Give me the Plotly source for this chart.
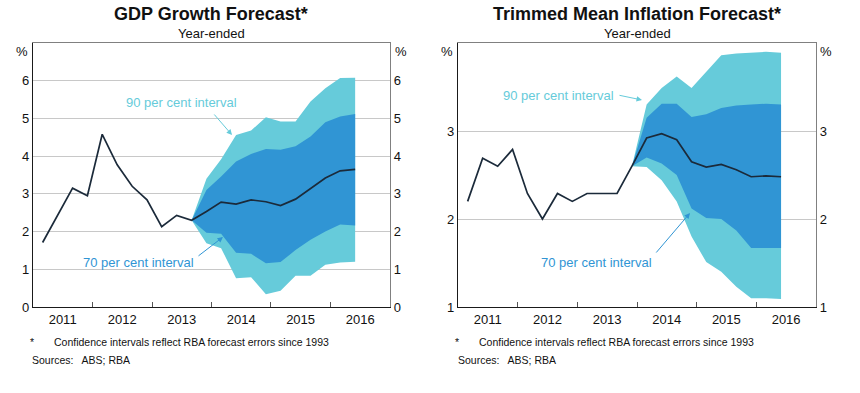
import plotly.graph_objects as go

# ---------------- data ----------------
quarters = ["2011-03-01", "2011-06-01", "2011-09-01", "2011-12-01",
            "2012-03-01", "2012-06-01", "2012-09-01", "2012-12-01",
            "2013-03-01", "2013-06-01", "2013-09-01", "2013-12-01",
            "2014-03-01", "2014-06-01", "2014-09-01", "2014-12-01",
            "2015-03-01", "2015-06-01", "2015-09-01", "2015-12-01",
            "2016-03-01", "2016-06-01"]

gdp_line = [1.71, 2.42, 3.15, 2.95, 4.58, 3.77, 3.20, 2.84, 2.13, 2.43, 2.30,
            2.53, 2.78, 2.73, 2.84, 2.79, 2.69, 2.86, 3.13, 3.42, 3.61, 3.65]
gdp_fc_start = 10
gdp_u90 = [2.30, 3.40, 3.92, 4.56, 4.68, 5.03, 4.92, 4.92, 5.45, 5.80, 6.07, 6.08]
gdp_u70 = [2.30, 3.10, 3.46, 3.86, 4.06, 4.19, 4.17, 4.26, 4.52, 4.90, 5.05, 5.12]
gdp_l70 = [2.30, 1.97, 1.94, 1.44, 1.41, 1.16, 1.19, 1.51, 1.78, 2.00, 2.19, 2.16]
gdp_l90 = [2.30, 1.69, 1.56, 0.76, 0.79, 0.34, 0.43, 0.83, 0.83, 1.12, 1.18, 1.20]

inf_line = [2.20, 2.69, 2.60, 2.79, 2.29, 2.00, 2.29, 2.20, 2.29, 2.29, 2.29,
            2.60, 2.92, 2.97, 2.90, 2.65, 2.59, 2.62, 2.56, 2.48, 2.49, 2.48]
inf_fc_start = 11
inf_u90 = [2.60, 3.30, 3.49, 3.62, 3.49, 3.67, 3.86, 3.88, 3.89, 3.90, 3.89]
inf_u70 = [2.60, 3.15, 3.31, 3.31, 3.16, 3.19, 3.26, 3.29, 3.30, 3.31, 3.30]
inf_l70 = [2.60, 2.70, 2.63, 2.50, 2.12, 2.01, 2.00, 1.87, 1.67, 1.67, 1.67]
inf_l90 = [2.60, 2.59, 2.44, 2.20, 1.80, 1.51, 1.40, 1.23, 1.10, 1.10, 1.09]

year_labels = ["2011", "2012", "2013", "2014", "2015", "2016"]
year_mid = ["2011-07-02", "2012-07-02", "2013-07-02", "2014-07-02", "2015-07-02", "2016-07-02"]
year_bounds = ["2012-01-01", "2013-01-01", "2014-01-01", "2015-01-01", "2016-01-01"]
gdp_ticks = [0, 1, 2, 3, 4, 5, 6]
inf_ticks = [1, 2, 3]

# ---------------- style ----------------
LIGHT = "#66CBDA"
DARK = "#3095D4"
LINE = "#1B2A3A"
GRID = "#C8C8C8"
FONT = "Arial, Liberation Sans, sans-serif"
W, H = 860, 393

fig = go.Figure()


def add_panel(line, start, u90, u70, l70, l90, xa, ya, xa_top, ya_right):
    xs = quarters[start:]
    fig.add_trace(go.Scatter(x=xs, y=u90, mode="lines", line=dict(width=0),
                             hoverinfo="skip", showlegend=False, xaxis=xa, yaxis=ya))
    fig.add_trace(go.Scatter(x=xs, y=l90, mode="lines", line=dict(width=0),
                             fill="tonexty", fillcolor=LIGHT, hoverinfo="skip",
                             showlegend=False, xaxis=xa, yaxis=ya))
    fig.add_trace(go.Scatter(x=xs, y=u70, mode="lines", line=dict(width=0),
                             hoverinfo="skip", showlegend=False, xaxis=xa, yaxis=ya))
    fig.add_trace(go.Scatter(x=xs, y=l70, mode="lines", line=dict(width=0),
                             fill="tonexty", fillcolor=DARK, hoverinfo="skip",
                             showlegend=False, xaxis=xa, yaxis=ya))
    fig.add_trace(go.Scatter(x=quarters, y=line, mode="lines",
                             line=dict(color=LINE, width=1.7),
                             showlegend=False, xaxis=xa, yaxis=ya))
    # invisible copy so the frame axes (top / right) are drawn
    fig.add_trace(go.Scatter(x=quarters, y=line, mode="lines",
                             line=dict(width=0), opacity=0, hoverinfo="skip",
                             showlegend=False, xaxis=xa_top, yaxis=ya_right))


add_panel(gdp_line, gdp_fc_start, gdp_u90, gdp_u70, gdp_l70, gdp_l90, "x", "y", "x3", "y3")
add_panel(inf_line, inf_fc_start, inf_u90, inf_u70, inf_l70, inf_l90, "x2", "y2", "x4", "y4")

ydom = [(H - 307) / H, (H - 43) / H]
dom_left = [33 / W, 390 / W]
dom_right = [458 / W, 816 / W]
xrange_ = ["2011-01-01", "2017-01-01"]
tickfont = dict(family=FONT, size=13, color="#111111")


def xaxis_main(domain, anchor):
    return dict(domain=domain, anchor=anchor, type="date", range=xrange_,
                tickmode="array", tickvals=year_mid, ticktext=year_labels,
                ticks="", showgrid=False, zeroline=False, automargin=False,
                showline=True, linecolor="#1a1a1a", linewidth=1.2,
                tickfont=tickfont,
                minor=dict(tickmode="array", tickvals=year_bounds, ticks="inside",
                           ticklen=5, tickcolor="#555555", tickwidth=1, showgrid=False))


def xaxis_top(domain, anchor, over):
    return dict(domain=domain, anchor=anchor, overlaying=over, side="top",
                type="date", range=xrange_, showticklabels=False, ticks="",
                showgrid=False, zeroline=False, showline=True, automargin=False,
                linecolor="#808080", linewidth=1.2)


def yaxis_main(rng, ticks, anchor):
    return dict(domain=ydom, anchor=anchor, range=rng, tickmode="array",
                tickvals=ticks, ticks="", showgrid=True, gridcolor=GRID,
                gridwidth=1, zeroline=False, showline=True, automargin=False,
                linecolor="#1a1a1a", linewidth=1.2, tickfont=tickfont)


def yaxis_right(rng, ticks, anchor, over):
    return dict(domain=ydom, anchor=anchor, overlaying=over, side="right",
                range=rng, tickmode="array", tickvals=ticks, ticks="",
                showgrid=False, zeroline=False, showline=True, automargin=False,
                linecolor="#808080", linewidth=1.2, tickfont=tickfont)


fig.update_layout(
    width=W, height=H, autosize=False,
    margin=dict(l=0, r=0, t=0, b=0, pad=0, autoexpand=False),
    paper_bgcolor="white", plot_bgcolor="white",
    font=dict(family=FONT, color="#111111"),
    xaxis=xaxis_main(dom_left, "y"),
    xaxis2=xaxis_main(dom_right, "y2"),
    xaxis3=xaxis_top(dom_left, "y3", "x"),
    xaxis4=xaxis_top(dom_right, "y4", "x2"),
    yaxis=yaxis_main([0, 7], gdp_ticks, "x"),
    yaxis2=yaxis_main([1, 4], inf_ticks, "x2"),
    yaxis3=yaxis_right([0, 7], gdp_ticks, "x3", "y"),
    yaxis4=yaxis_right([1, 4], inf_ticks, "x4", "y2"),
)


def px(xp, yp):
    return xp / W, (H - yp) / H


annotations = []


def text(xp, yp, s, size=13, color="#111111", xanchor="center"):
    x, y = px(xp, yp)
    annotations.append(dict(xref="paper", yref="paper", x=x, y=y, text=s,
                            showarrow=False, xanchor=xanchor, yanchor="middle",
                            font=dict(family=FONT, size=size, color=color)))


def arrow(hx, hy, tx, ty, color):
    x, y = px(hx, hy)
    annotations.append(dict(xref="paper", yref="paper", x=x, y=y, text="",
                            showarrow=True, ax=tx - hx, ay=ty - hy,
                            arrowcolor=color, arrowwidth=1, arrowhead=2,
                            arrowsize=1.1, standoff=0, startstandoff=0))


# titles
text(211, 14, "<b>GDP Growth Forecast*</b>", size=18)
text(211, 33, "Year-ended", size=13)
text(637, 14, "<b>Trimmed Mean Inflation Forecast*</b>", size=18)
text(637, 33, "Year-ended", size=13)

# % labels
text(30, 52, "%", xanchor="right")
text(393, 52, "%", xanchor="left")
text(455, 52, "%", xanchor="right")
text(818, 52, "%", xanchor="left")

# interval labels
text(181, 103, "90 per cent interval", color=LIGHT)
arrow(232, 135, 213, 113, LIGHT)
text(138, 262, "70 per cent interval", color=DARK)
arrow(223, 237, 197, 257, DARK)
text(558, 95, "90 per cent interval", color=LIGHT)
arrow(642, 100, 618, 95, LIGHT)
text(596, 262, "70 per cent interval", color=DARK)
arrow(690, 213, 655, 254, DARK)

# footnotes
text(32, 342, "*", size=10.5)
text(52, 342, "Confidence intervals reflect RBA forecast errors since 1993", size=10.5, xanchor="left")
text(30, 360, "Sources:&nbsp;&nbsp; ABS; RBA", size=10.5, xanchor="left")
text(457, 342, "*", size=10.5)
text(477, 342, "Confidence intervals reflect RBA forecast errors since 1993", size=10.5, xanchor="left")
text(456, 360, "Sources:&nbsp;&nbsp; ABS; RBA", size=10.5, xanchor="left")

fig.update_layout(annotations=annotations)

fig.write_html("out.html", config={"displayModeBar": False, "responsive": False},
               post_script="document.body.style.margin='0px';")
